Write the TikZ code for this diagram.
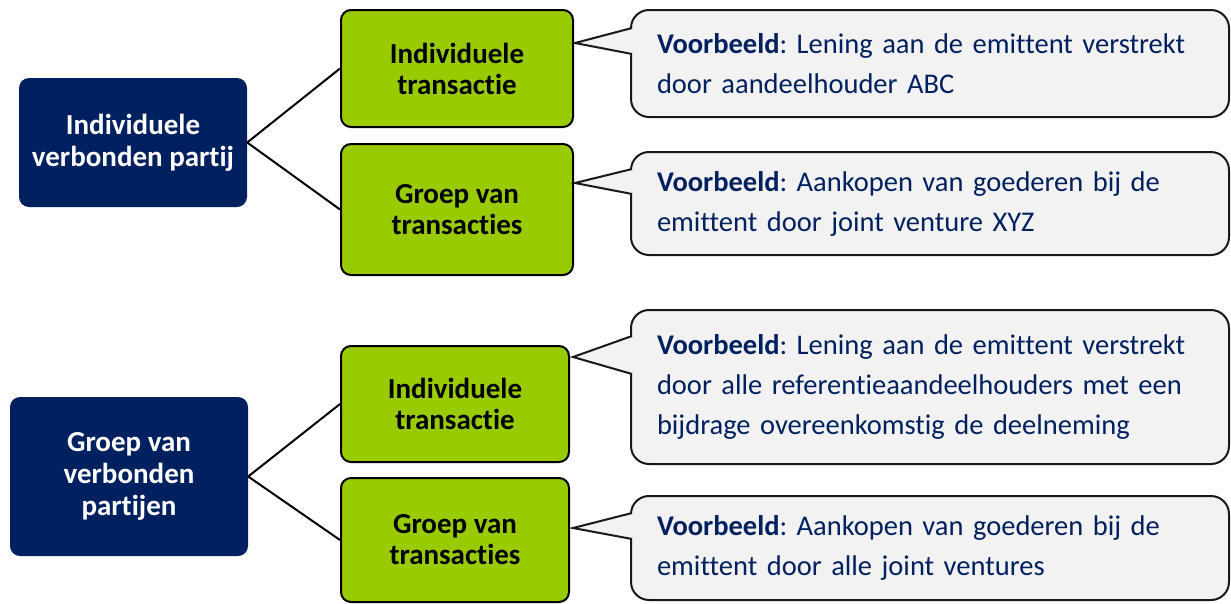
\documentclass[tikz,border=0pt]{standalone}
\usepackage{fontspec}
\setmainfont[Ligatures={NoCommon}]{Carlito}
\definecolor{navy}{HTML}{002060}
\definecolor{lime}{HTML}{99CC00}
\definecolor{callfill}{HTML}{F2F2F2}
\frenchspacing
\begin{document}
\frenchspacing
\begin{tikzpicture}[x=1pt,y=-1pt,
  party/.style={fill=navy, rounded corners=10pt, text=white, font=\bfseries\fontsize{29}{32}\selectfont, align=center, inner sep=0pt},
  trans/.style={fill=lime, draw=black, line width=2pt, rounded corners=10pt, text=black, font=\bfseries\fontsize{29}{31}\selectfont, align=center, inner sep=0pt},
  callbody/.style={fill=callfill, draw=black!90, line width=2pt, rounded corners=18pt, text=navy, align=left, font=\fontsize{28.5}{40}\selectfont, text width=546pt, inner xsep=26pt, inner ysep=0pt, minimum width=598pt},
  ptr/.style={draw=black!90, line width=2pt, line join=miter},
  link/.style={draw=black, line width=2pt}]
\useasboundingbox (0,0) rectangle (1231,603);

% left party boxes
\node[party, minimum width=228pt, minimum height=129pt] (p1) at (133,142.5) {Individuele\\verbonden partij};
\node[party, minimum width=238pt, minimum height=159pt] (p2) at (129,476.5) {Groep van\\verbonden\\partijen};

% transaction boxes
\node[trans, minimum width=232pt, minimum height=117pt] (g1) at (457,68.5) {Individuele\\transactie};
\node[trans, minimum width=232pt, minimum height=131pt] (g2) at (457,209.5) {Groep van\\transacties};
\node[trans, minimum width=228pt, minimum height=116pt] (g3) at (455,404) {Individuele\\transactie};
\node[trans, minimum width=228pt, minimum height=124pt] (g4) at (455,540) {Groep van\\transacties};

% connectors
\draw[link] (p1.east) -- (g1.west);
\draw[link] (p1.east) -- (g2.west);
\draw[link] (p2.east) -- (g3.west);
\draw[link] (p2.east) -- (g4.west);

% callouts
\node[callbody, minimum height=107pt] (c1) at (930,63.5)
  {\textbf{Voorbeeld}: Lening aan de emittent verstrekt\\door aandeelhouder ABC};
\node[callbody, minimum height=103pt] (c2) at (930,203.5)
  {\textbf{Voorbeeld}: Aankopen van goederen bij de\\emittent door joint venture XYZ};
\node[callbody, minimum height=154pt] (c3) at (930,387)
  {\textbf{Voorbeeld}: Lening aan de emittent verstrekt\\door alle referentieaandeelhouders met een\\bijdrage overeenkomstig de deelneming};
\node[callbody, minimum height=104pt] (c4) at (930,548)
  {\textbf{Voorbeeld}: Aankopen van goederen bij de\\emittent door alle joint ventures};

% pointer tips
\coordinate (t1) at (575,43);
\coordinate (t2) at (575,183);
\coordinate (t3) at (573,357);
\coordinate (t4) at (573,528);

\fill[callfill] (633.5,28) -- (t1) -- (633.5,54) -- cycle;
\draw[ptr] (632,28) -- (t1) -- (632,54);
\fill[callfill] (633.5,169) -- (t2) -- (633.5,194) -- cycle;
\draw[ptr] (632,169) -- (t2) -- (632,194);
\fill[callfill] (633.5,336) -- (t3) -- (633.5,374) -- cycle;
\draw[ptr] (632,336) -- (t3) -- (632,374);
\fill[callfill] (633.5,513) -- (t4) -- (633.5,539) -- cycle;
\draw[ptr] (632,513) -- (t4) -- (632,539);
\end{tikzpicture}
\end{document}
